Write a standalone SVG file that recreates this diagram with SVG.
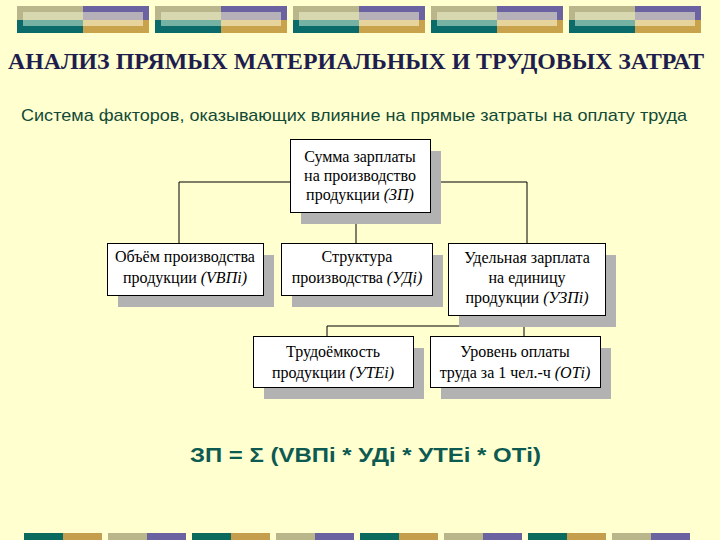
<svg xmlns="http://www.w3.org/2000/svg" width="720" height="540" viewBox="0 0 720 540">
  <defs>
    <style>
      .bt { font-family: "Liberation Serif", "Times New Roman", serif; font-size: 16px; fill: #000; text-anchor: middle; }
      .it { font-style: italic; }
      .box { fill: #ffffff; stroke: #000; stroke-width: 1; }
      .shadow { fill: #b2b2b2; }
      .conn { stroke: #000; stroke-width: 1; fill: none; }
    </style>
    <g id="seg">
      <rect x="0" y="6" width="66" height="14" fill="#b9b68c"/>
      <rect x="0" y="20" width="66" height="13" fill="#0b6a6a"/>
      <rect x="6" y="12" width="60" height="8" fill="#d8d8b0"/>
      <rect x="6" y="20" width="60" height="6" fill="#76b2a4"/>
      <rect x="66" y="6" width="66" height="14" fill="#6b62a2"/>
      <rect x="66" y="20" width="66" height="13" fill="#c9a24c"/>
      <rect x="66" y="12" width="60" height="8" fill="#b6b0b8"/>
      <rect x="66" y="20" width="60" height="6" fill="#e6d49c"/>
    </g>
    <g id="botA">
      <rect x="0" y="533" width="39" height="7" fill="#0b6a5e"/>
      <rect x="39" y="533" width="39" height="7" fill="#c49e4c"/>
    </g>
    <g id="botB">
      <rect x="0" y="533" width="39" height="7" fill="#b9b68c"/>
      <rect x="39" y="533" width="39" height="7" fill="#6b62a2"/>
    </g>
  </defs>

  <rect x="0" y="0" width="720" height="540" fill="#ffffcf"/>

  <g id="top-bar">
    <use href="#seg" x="17"/>
    <use href="#seg" x="155"/>
    <use href="#seg" x="293"/>
    <use href="#seg" x="431"/>
    <use href="#seg" x="569"/>
  </g>

  <g id="bottom-bar">
    <use href="#botA" x="24"/>
    <use href="#botB" x="108"/>
    <use href="#botA" x="192"/>
    <use href="#botB" x="276"/>
    <use href="#botA" x="360"/>
    <use href="#botB" x="444"/>
    <use href="#botA" x="528"/>
    <use href="#botB" x="612"/>
  </g>

  <text x="8" y="69" font-family="'Liberation Serif', 'Times New Roman', serif" font-size="23.8" font-weight="bold" fill="#1e1e4e">АНАЛИЗ ПРЯМЫХ МАТЕРИАЛЬНЫХ И ТРУДОВЫХ ЗАТРАТ</text>
  <text x="21" y="121" font-family="'Liberation Sans', Arial, sans-serif" font-size="17" fill="#124a36" textLength="666" lengthAdjust="spacingAndGlyphs">Система факторов, оказывающих влияние на прямые затраты на оплату труда</text>

  <g id="connectors">
    <polyline class="conn" points="290,182 179,182 179,243"/>
    <polyline class="conn" points="430,182 527,182 527,243"/>
    <line class="conn" x1="356" y1="212" x2="356" y2="243"/>
    <line class="conn" x1="524" y1="315" x2="524" y2="336"/>
    <polyline class="conn" points="524,326 327,326 327,336"/>
  </g>

  <g id="node-zp">
    <rect class="shadow" x="301" y="151" width="140" height="73"/>
    <rect class="box" x="290.5" y="139.5" width="140" height="73"/>
    <text class="bt" x="360" y="162">Сумма зарплаты</text>
    <text class="bt" x="360" y="181">на производство</text>
    <text class="bt" x="360" y="200">продукции <tspan class="it">(ЗП)</tspan></text>
  </g>

  <g id="node-vvp">
    <rect class="shadow" x="118" y="255" width="156" height="52"/>
    <rect class="box" x="107.5" y="243.5" width="156" height="52"/>
    <text class="bt" x="185" y="262">Объём производства</text>
    <text class="bt" x="185" y="283">продукции <tspan class="it">(VВПi)</tspan></text>
  </g>

  <g id="node-ud">
    <rect class="shadow" x="292" y="255" width="151" height="52"/>
    <rect class="box" x="281.5" y="243.5" width="151" height="52"/>
    <text class="bt" x="357" y="262">Структура</text>
    <text class="bt" x="357" y="283">производства <tspan class="it">(УДi)</tspan></text>
  </g>

  <g id="node-uzp">
    <rect class="shadow" x="459" y="255" width="157" height="72"/>
    <rect class="box" x="448.5" y="243.5" width="157" height="72"/>
    <text class="bt" x="527" y="263">Удельная зарплата</text>
    <text class="bt" x="527" y="283">на единицу</text>
    <text class="bt" x="527" y="303">продукции <tspan class="it">(УЗПi)</tspan></text>
  </g>

  <g id="node-ute">
    <rect class="shadow" x="264" y="348" width="160" height="51"/>
    <rect class="box" x="253.5" y="336.5" width="160" height="51"/>
    <text class="bt" x="333" y="357">Трудоёмкость</text>
    <text class="bt" x="333" y="378">продукции <tspan class="it">(УТЕi)</tspan></text>
  </g>

  <g id="node-ot">
    <rect class="shadow" x="441" y="348" width="170" height="51"/>
    <rect class="box" x="430.5" y="336.5" width="170" height="51"/>
    <text class="bt" x="515" y="357">Уровень оплаты</text>
    <text class="bt" x="515" y="378">труда за 1 чел.-ч <tspan class="it">(ОТi)</tspan></text>
  </g>

  <text x="190" y="462" font-family="'Liberation Sans', Arial, sans-serif" font-size="20" font-weight="bold" fill="#0d5a52" textLength="351" lengthAdjust="spacingAndGlyphs">ЗП = Σ (VВПi * УДi * УТЕi * ОТi)</text>
</svg>
